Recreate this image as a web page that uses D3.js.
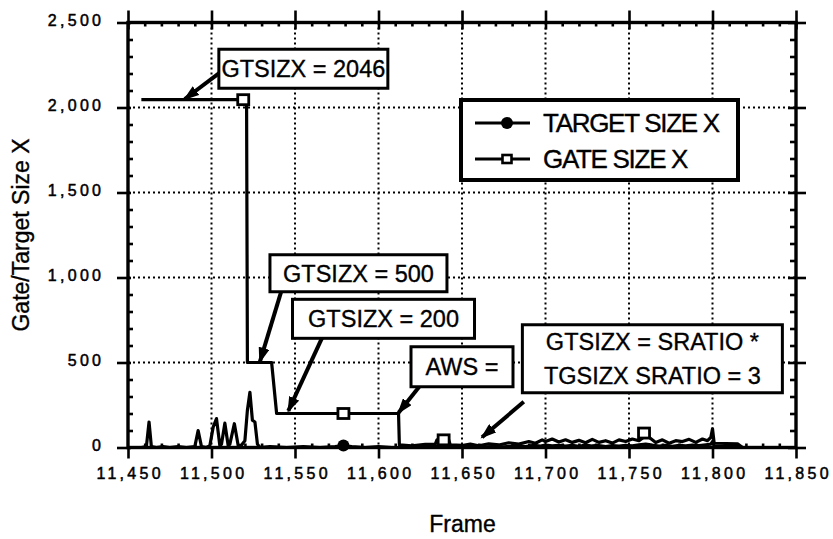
<!DOCTYPE html>
<meta charset="utf-8">
<title>Gate/Target Size X</title>
<script src="https://d3js.org/d3.v7.min.js"></script>
<style>
  body { margin: 0; background: #fff; }
  text { font-family: "Liberation Sans", Arial, Helvetica, sans-serif; fill: #000; stroke: #000; stroke-width: 0.35px; }
  .tick text { font-size: 16px; letter-spacing: 3.3px; stroke-width: 0.5px; }
  .tick line { stroke: #000; stroke-width: 2.6; }
  .domain { display: none; }
  .grid line { stroke: #000; stroke-width: 2; stroke-dasharray: 2,3; }
  .series { fill: none; stroke: #000; stroke-width: 3.2; stroke-linejoin: round; }
  .note rect { fill: #fff; stroke: #000; stroke-width: 3; }
  .note text { font-size: 23.5px; text-anchor: middle; }
  .arrow { stroke: #000; stroke-width: 4; }
  .legend text { font-size: 26px; letter-spacing: -1.3px; }
  .label { font-size: 23px; text-anchor: middle; }
</style>
<div id="chart"></div>
<script>

// values
var targetFrames = [11458, 11461, 11462.6, 11464, 11467, 11471, 11475, 11480, 11485, 11490, 11492, 11494, 11497,
  11499, 11501, 11503, 11505, 11506, 11508, 11510, 11511, 11513.7, 11516, 11518, 11520, 11521.5, 11523, 11524.5,
  11526, 11527.5, 11529, 11535, 11545, 11555, 11565, 11574, 11579, 11584, 11592, 11600, 11608, 11612, 11618,
  11625, 11632, 11640, 11646, 11652, 11660, 11668, 11675, 11682, 11688, 11693, 11697, 11700, 11704, 11708,
  11712, 11716, 11720, 11724, 11728, 11732, 11736, 11740, 11744, 11748, 11752, 11756, 11760, 11764, 11768,
  11772, 11776, 11780, 11784, 11788, 11792, 11796, 11799, 11800, 11801, 11805, 11815, 11818];
var targetValues = [0, 5, 150, 5, 0, 5, 0, 5, 0, 5, 100, 5, 0,
  10, 120, 170, 10, 20, 143, 10, 20, 140, 10, 15, 40, 220, 325, 160,
  150, 20, 0, 5, 0, 5, 0, 5, 12, 5, 0, 5, 0, 0, 5,
  3, 6, 10, 3, 5, 3, 6, 4, 8, 6, 12, 8, 14, 10, 13,
  8, 12, 7, 14, 9, 12, 6, 11, 8, 13, 10, 16, 20, 14, 9,
  13, 7, 12, 10, 14, 11, 16, 20, 35, 8, 6, 5, 0];

var gateFrames = [11458, 11519, 11521, 11521.5, 11536, 11539, 11612, 11612.5, 11620, 11628, 11634, 11635, 11642,
  11643, 11650, 11655, 11660, 11666, 11672, 11678, 11684, 11690, 11694, 11698, 11700, 11704, 11708, 11712,
  11716, 11720, 11724, 11728, 11732, 11736, 11740, 11744, 11748, 11752, 11756, 11758, 11759, 11762, 11766,
  11770, 11774, 11778, 11782, 11786, 11790, 11794, 11797, 11799, 11800, 11801, 11815, 11818];
var gateValues = [2046, 2046, 2046, 500, 500, 200, 200, 15, 10, 18, 20, 45, 45,
  15, 12, 20, 10, 22, 15, 28, 20, 35, 25, 45, 35, 50, 32, 45,
  30, 42, 28, 48, 30, 40, 26, 45, 35, 50, 40, 55, 85, 60, 30,
  45, 25, 40, 35, 48, 30, 50, 40, 60, 110, 25, 22, 0];

var gateMarkFrames = [11519, 11579, 11639, 11759];
var gateMarkValues = [2046, 200, 45, 85];
var targetMarkFrames = [11579];
var targetMarkValues = [12];

var xTicks = [11450, 11500, 11550, 11600, 11650, 11700, 11750, 11800, 11850];
var yTicks = [0, 500, 1000, 1500, 2000, 2500];
var seriesNames = ["TARGET SIZE X", "GATE SIZE X"];

var notes = [
  {lines: ["GTSIZX = 2046"], at: [11555, 2228], from: [11505, 2205], to: [11484, 2050], w: 169, h: 39},
  {lines: ["GTSIZX = 500"], at: [11588, 1025], from: [11543, 958], to: [11529, 505], w: 177, h: 37},
  {lines: ["GTSIZX = 200"], at: [11603, 757], from: [11568, 683], to: [11546, 215], w: 182, h: 39},
  {lines: ["AWS ="], at: [11650, 475], from: [11627, 390], to: [11612, 205], w: 102, h: 40},
  {lines: ["GTSIZX = SRATIO *", "TGSIZX SRATIO = 3"], at: [11764, 522], from: [11687, 269], to: [11662, 60], w: 260, h: 68}
];

var margin = {top: 22.5, right: 37, bottom: 91.5, left: 128},
    width = 833 - margin.left - margin.right,
    height = 539 - margin.top - margin.bottom;

var svg = d3.select("#chart")
  .append("svg")
    .attr("width", 833)
    .attr("height", 539)
  .append("g")
    .attr("transform", "translate(" + margin.left + "," + margin.top + ")");

var x = d3.scaleLinear().domain([11450, 11850]).range([0, width]);
var y = d3.scaleLinear().domain([0, 2500]).range([height, 0]);

var xMinor = d3.range(11450, 11851, 10).filter(function(d) { return xTicks.indexOf(d) < 0; });
var yMinor = d3.range(0, 2501, 100).filter(function(d) { return yTicks.indexOf(d) < 0; });

// dotted grid
var grid = svg.append("g").attr("class", "grid");
grid.selectAll(".gx")
  .data(xTicks.slice(1, -1))
  .enter().append("line")
    .attr("x1", function(d) { return x(d); })
    .attr("x2", function(d) { return x(d); })
    .attr("y1", 0)
    .attr("y2", height);
grid.selectAll(".gy")
  .data(yTicks.slice(1, -1))
  .enter().append("line")
    .attr("x1", 0)
    .attr("x2", width)
    .attr("y1", function(d) { return y(d); })
    .attr("y2", function(d) { return y(d); });

var fmt = d3.format(",");

// left axis
svg.append("g").call(d3.axisLeft(y).tickValues(yTicks).tickSize(11).tickPadding(12.7).tickFormat(fmt))
  .selectAll("text").attr("dy", "0.2em");
svg.append("g").call(d3.axisLeft(y).tickValues(yTicks).tickSize(-3).tickFormat(""));
svg.append("g").call(d3.axisLeft(y).tickValues(yMinor).tickSize(-5).tickFormat(""));

// bottom axis
svg.append("g")
  .attr("transform", "translate(0," + height + ")")
  .call(d3.axisBottom(x).tickValues(xTicks).tickSize(11).tickPadding(9.5).tickFormat(fmt))
  .selectAll("text").attr("dx", "1.65");
svg.append("g")
  .attr("transform", "translate(0," + height + ")")
  .call(d3.axisBottom(x).tickValues(xMinor).tickSize(-4).tickFormat(""));

// top axis
svg.append("g").call(d3.axisTop(x).tickValues(xTicks).tickSize(12).tickFormat(""));
svg.append("g").call(d3.axisTop(x).tickValues(xTicks).tickSize(-7).tickFormat(""));
svg.append("g").call(d3.axisTop(x).tickValues(xMinor).tickSize(-4).tickFormat(""));

// right axis
svg.append("g")
  .attr("transform", "translate(" + width + ",0)")
  .call(d3.axisRight(y).tickValues(yTicks).tickSize(10).tickFormat(""));
svg.append("g")
  .attr("transform", "translate(" + width + ",0)")
  .call(d3.axisRight(y).tickValues(yTicks).tickSize(-8).tickFormat(""));
svg.append("g")
  .attr("transform", "translate(" + width + ",0)")
  .call(d3.axisRight(y).tickValues(yMinor).tickSize(-6).tickFormat(""));

// plot frame
svg.append("rect")
  .attr("width", width)
  .attr("height", height)
  .attr("fill", "none")
  .attr("stroke", "#000")
  .attr("stroke-width", 3.4);

// series
var line = d3.line()
  .x(function(d) { return x(d[0]); })
  .y(function(d) { return y(d[1]); });

svg.append("path")
  .datum(d3.zip(targetFrames, targetValues))
  .attr("class", "series")
  .attr("d", line);

svg.append("path")
  .datum(d3.zip(gateFrames, gateValues))
  .attr("class", "series")
  .attr("d", line);

svg.selectAll(".tmark")
  .data(d3.zip(targetMarkFrames, targetMarkValues))
  .enter().append("circle")
    .attr("cx", function(d) { return x(d[0]); })
    .attr("cy", function(d) { return y(d[1]); })
    .attr("r", 6)
    .attr("fill", "#000");

svg.selectAll(".gmark")
  .data(d3.zip(gateMarkFrames, gateMarkValues))
  .enter().append("rect")
    .attr("x", function(d) { return x(d[0]) - 5.5; })
    .attr("y", function(d) { return y(d[1]) - 5; })
    .attr("width", 11)
    .attr("height", 10)
    .attr("fill", "#fff")
    .attr("stroke", "#000")
    .attr("stroke-width", 2.8);

// call-out boxes with arrows
var defs = svg.append("defs");
defs.append("marker")
  .attr("id", "head")
  .attr("markerUnits", "userSpaceOnUse")
  .attr("viewBox", "0 0 16 11")
  .attr("refX", 14)
  .attr("refY", 5.5)
  .attr("markerWidth", 16)
  .attr("markerHeight", 11)
  .attr("orient", "auto")
  .append("path")
    .attr("d", "M0,0L16,5.5L0,11z")
    .attr("fill", "#000");

notes.forEach(function(n) {
  svg.append("line")
    .attr("class", "arrow")
    .attr("x1", x(n.from[0]))
    .attr("y1", y(n.from[1]))
    .attr("x2", x(n.to[0]))
    .attr("y2", y(n.to[1]))
    .attr("marker-end", "url(#head)");

  var g = svg.append("g")
    .attr("class", "note")
    .attr("transform", "translate(" + x(n.at[0]) + "," + y(n.at[1]) + ")");
  g.append("rect")
    .attr("x", -n.w / 2)
    .attr("y", -n.h / 2)
    .attr("width", n.w)
    .attr("height", n.h);
  g.selectAll("text")
    .data(n.lines)
    .enter().append("text")
      .attr("y", function(d, i) { return (i - (n.lines.length - 1) / 2) * 33.5; })
      .attr("dy", "0.36em")
      .text(function(d) { return d; });
});

// legend
var legend = svg.append("g")
  .attr("class", "legend")
  .attr("transform", "translate(333,77.5)");

legend.append("rect")
  .attr("width", 277)
  .attr("height", 80)
  .attr("fill", "#fff")
  .attr("stroke", "#000")
  .attr("stroke-width", 4);

var item = legend.selectAll(".item")
  .data(seriesNames)
  .enter().append("g")
    .attr("transform", function(d, i) { return "translate(0," + (23 + i * 36) + ")"; });

item.append("line")
  .attr("x1", 14)
  .attr("x2", 69)
  .attr("stroke", "#000")
  .attr("stroke-width", 2.8);

item.filter(function(d, i) { return i === 0; })
  .append("circle")
    .attr("cx", 46)
    .attr("r", 6)
    .attr("fill", "#000");

item.filter(function(d, i) { return i === 1; })
  .append("rect")
    .attr("x", 41.5)
    .attr("y", -4)
    .attr("width", 9)
    .attr("height", 8)
    .attr("fill", "#fff")
    .attr("stroke", "#000")
    .attr("stroke-width", 2.6);

item.append("text")
  .attr("x", 82)
  .attr("dy", "0.36em")
  .text(function(d) { return d; });

// axis titles
svg.append("text")
  .attr("class", "label")
  .attr("x", 334.5)
  .attr("y", 509)
  .text("Frame");

svg.append("text")
  .attr("class", "label")
  .attr("font-size", "22px")
  .attr("transform", "translate(-99," + (235 - margin.top) + ")rotate(-90)")
  .text("Gate/Target Size X");

</script>
